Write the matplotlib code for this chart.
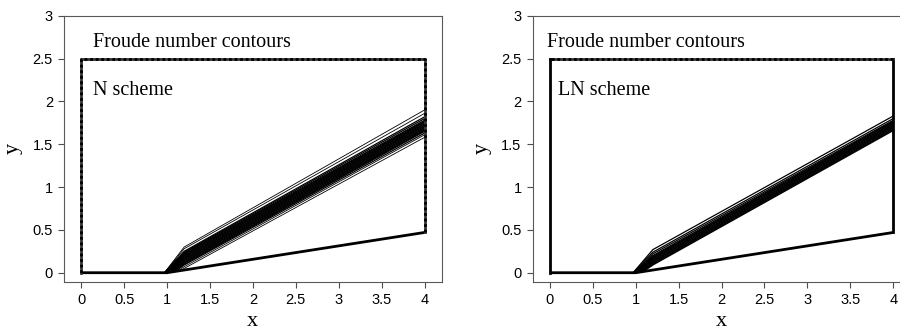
import matplotlib
matplotlib.use("Agg")
import matplotlib.pyplot as plt
from matplotlib.patches import Polygon

# domain boundary (wall, wedge, outflow, top, inflow)
wall_x = [0.0, 1.0, 4.0]
wall_y = [0.0, 0.0, 0.47]
open_x = [4.0, 4.0, 0.0, 0.0]
open_y = [0.47, 2.5, 2.5, 0.0]

# contour lines: start on the wall, value at x=1.2 and at x=4
probe_x = [1.2, 4.0]

n_start_x = [1.12, 1.10, 1.08, 1.06, 1.05, 1.04, 1.03, 1.02, 1.02, 1.01, 1.01,
             1.00, 1.00, 0.99, 0.99, 0.98, 0.98, 0.98, 0.97, 0.97, 0.97]
n_knee_y = [0.05, 0.07, 0.09, 0.10, 0.11, 0.12, 0.13, 0.14, 0.15, 0.16, 0.17,
            0.18, 0.19, 0.20, 0.21, 0.22, 0.23, 0.24, 0.25, 0.28, 0.30]
n_end_y = [1.58, 1.61, 1.63, 1.65, 1.66, 1.67, 1.68, 1.69, 1.70, 1.71, 1.72,
           1.73, 1.74, 1.75, 1.76, 1.77, 1.78, 1.80, 1.82, 1.86, 1.90]

ln_start_x = [1.07, 1.06, 1.05, 1.04, 1.03, 1.02, 1.01, 1.00, 1.00, 0.99,
              0.99, 0.98, 0.98, 0.97, 0.97]
ln_knee_y = [0.09, 0.10, 0.11, 0.12, 0.13, 0.14, 0.15, 0.16, 0.17, 0.18,
             0.19, 0.20, 0.22, 0.24, 0.27]
ln_end_y = [1.66, 1.67, 1.68, 1.69, 1.70, 1.71, 1.72, 1.73, 1.74, 1.75,
            1.76, 1.77, 1.78, 1.80, 1.83]

xticks = [0, 0.5, 1, 1.5, 2, 2.5, 3, 3.5, 4]
xtick_labels = ["0", "0.5", "1", "1.5", "2", "2.5", "3", "3.5", "4"]
yticks = [0, 0.5, 1, 1.5, 2, 2.5, 3]
ytick_labels = ["0", "0.5", "1", "1.5", "2", "2.5", "3"]

panels = [
    ("N scheme", n_start_x, n_knee_y, n_end_y, True),
    ("LN scheme", ln_start_x, ln_knee_y, ln_end_y, False),
]

serif = "Liberation Serif"
sans = "Liberation Sans"

fig = plt.figure(figsize=(9, 3.32), dpi=100)
lefts = [0.0711, 0.5919]

for left, (name, sx, ky, ey, dotted) in zip(lefts, panels):
    ax = fig.add_axes([left, 0.1515, 0.4197, 0.801])
    ax.set_xlim(-0.2, 4.2)
    ax.set_ylim(-0.105, 3.0)

    domain = Polygon(list(zip(wall_x + open_x[1:], wall_y + open_y[1:])),
                     closed=True, transform=ax.transData)

    n = len(sx)
    for i, (x0, yk, ye) in enumerate(zip(sx, ky, ey)):
        outer = i < 2 or i >= n - 2
        lw = 0.6 if (dotted and outer) else 0.9
        line, = ax.plot([x0] + probe_x, [0.0, yk, ye], color="black", lw=lw)
        line.set_clip_path(domain)

    ax.plot(wall_x, wall_y, color="black", lw=2.0, solid_capstyle="butt")
    if dotted:
        ax.plot(open_x, open_y, color="0.2", lw=2.0)
        ax.plot(open_x, open_y, color="black", lw=2.0, ls=(0, (1, 1)))
    else:
        ax.plot(open_x[:2], open_y[:2], color="black", lw=2.0)
        ax.plot(open_x[1:3], open_y[1:3], color="0.2", lw=2.0)
        ax.plot(open_x[1:3], open_y[1:3], color="black", lw=2.0, ls=(0, (1, 1)))
        ax.plot(open_x[2:], open_y[2:], color="black", lw=2.0)

    tx = 0.14 if dotted else -0.03
    ax.text(tx, 2.69, "Froude number contours", family=serif, fontsize=14.5,
            va="center", ha="left")
    ax.text(0.14 if dotted else 0.09, 2.13, name, family=serif, fontsize=14.5,
            va="center", ha="left")

    ax.set_xticks(xticks)
    ax.set_xticklabels(xtick_labels, family=sans, fontsize=10.5)
    ax.set_yticks(yticks)
    ax.set_yticklabels(ytick_labels, family=sans, fontsize=10.5)
    ax.tick_params(direction="out", length=4, width=0.8, color="0.3", pad=4)
    for s in ax.spines.values():
        s.set_color("0.35")
        s.set_linewidth(0.8)
    ax.set_xlabel("x", family=serif, fontsize=16, labelpad=4)
    ax.set_ylabel("y", family=serif, fontsize=16, labelpad=7)

fig.savefig("out.png", dpi=100)
